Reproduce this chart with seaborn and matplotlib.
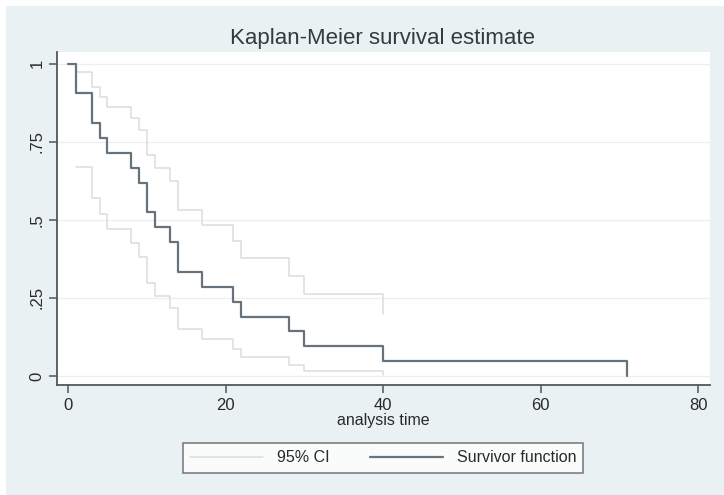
import matplotlib
matplotlib.use("Agg")
import matplotlib.pyplot as plt
import seaborn as sns
import pandas as pd
from matplotlib.patches import Rectangle

# ---- data ----
surv_time = [0, 1, 3, 4, 5, 8, 9, 10, 11, 13, 14, 17, 21, 22, 28, 30, 40, 71]
surv_prob = [1.0, 0.905, 0.810, 0.762, 0.714, 0.667, 0.619, 0.524, 0.476, 0.429,
             0.333, 0.286, 0.238, 0.190, 0.143, 0.095, 0.048, 0.0]

ci_time = [1, 3, 4, 5, 8, 9, 10, 11, 13, 14, 17, 21, 22, 28, 30, 40]
ci_upper = [0.975, 0.924, 0.893, 0.860, 0.825, 0.788, 0.709, 0.667, 0.623,
            0.531, 0.482, 0.431, 0.377, 0.321, 0.261, 0.197]
ci_lower = [0.670, 0.569, 0.519, 0.472, 0.425, 0.381, 0.297, 0.257, 0.219,
            0.149, 0.117, 0.087, 0.060, 0.036, 0.016, 0.003]

x_ticks = [0, 20, 40, 60, 80]
y_ticks = [0, 0.25, 0.5, 0.75, 1]
y_ticklabels = ["0", ".25", ".5", ".75", "1"]

title = "Kaplan-Meier survival estimate"
x_label = "analysis time"
legend_labels = ["95% CI", "Survivor function"]

# ---- styling ----
sns.set_style("white")
plt.rcParams["font.family"] = ["Liberation Sans", "DejaVu Sans"]

BG = "#eaf1f3"
SURV_COLOR = "#66737c"
CI_COLOR = "#dadddf"
AXIS_COLOR = "#50585e"
TEXT_COLOR = "#2a2a2a"

fig = plt.figure(figsize=(7.24, 4.95), dpi=100)
fig.patch.set_facecolor("white")
fig.patches.append(Rectangle((0.008, 0.0), 0.992, 0.988, transform=fig.transFigure,
                             facecolor=BG, edgecolor="none", zorder=-10))

ax = fig.add_axes([0.0787, 0.2222, 0.9020, 0.6730])
ax.set_facecolor("white")

surv_df = pd.DataFrame({"time": surv_time, "prob": surv_prob})
ci_df = pd.DataFrame({"time": ci_time, "upper": ci_upper, "lower": ci_lower})

for yv in y_ticks:
    ax.axhline(yv, color="#eeeeee", lw=0.9, zorder=0)

sns.lineplot(data=ci_df, x="time", y="upper", ax=ax, color=CI_COLOR, lw=1.1,
             drawstyle="steps-post", estimator=None, label=legend_labels[0])
sns.lineplot(data=ci_df, x="time", y="lower", ax=ax, color=CI_COLOR, lw=1.1,
             drawstyle="steps-post", estimator=None)
sns.lineplot(data=surv_df, x="time", y="prob", ax=ax, color=SURV_COLOR, lw=1.6,
             drawstyle="steps-post", estimator=None, label=legend_labels[1])

ax.set_xlim(-1.4, 81.5)
ax.set_ylim(-0.029, 1.038)
ax.set_xticks(x_ticks)
ax.set_xticklabels([str(v) for v in x_ticks], fontsize=12, color=TEXT_COLOR)
ax.set_yticks(y_ticks)
ax.set_yticklabels(y_ticklabels, fontsize=12, color=TEXT_COLOR, rotation=90,
                   va="center")
ax.tick_params(axis="both", direction="out", length=6, width=1.1, color=AXIS_COLOR,
               pad=3)
ax.tick_params(axis="x", bottom=True)
ax.tick_params(axis="y", left=True)

for side in ["top", "right"]:
    ax.spines[side].set_visible(False)
for side in ["left", "bottom"]:
    ax.spines[side].set_color(AXIS_COLOR)
    ax.spines[side].set_linewidth(1.3)

ax.set_xlabel(x_label, fontsize=11.5, color=TEXT_COLOR, labelpad=0)
ax.set_ylabel("")
fig.text(0.529, 0.922, title, ha="center", va="center", fontsize=16,
         color="#333a40")

ax.get_legend().remove()
handles, labels = ax.get_legend_handles_labels()
leg = fig.legend(handles, labels, loc="center", bbox_to_anchor=(0.529, 0.075),
                 ncol=2, fontsize=11.5, frameon=True, fancybox=False,
                 handlelength=4.6, handletextpad=0.85, columnspacing=2.5,
                 borderpad=0.45, borderaxespad=0)
leg.get_frame().set_edgecolor("#555555")
leg.get_frame().set_linewidth(1.1)
leg.get_frame().set_facecolor("white")
for t in leg.get_texts():
    t.set_color(TEXT_COLOR)

fig.savefig("out.png", dpi=100, facecolor=fig.get_facecolor())
